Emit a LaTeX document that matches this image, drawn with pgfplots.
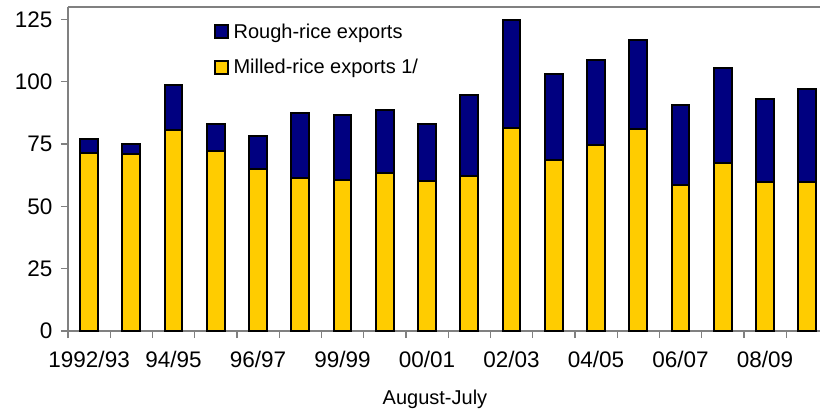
\documentclass[border=0pt]{standalone}
\usepackage{pgfplots}
\usepackage{pgfplotstable}
\pgfplotsset{compat=1.18}
\usepackage{fontspec}
\setmainfont{Liberation Sans}
\definecolor{navy}{HTML}{000080}
\definecolor{gold}{HTML}{FFCC00}
\definecolor{spine}{HTML}{808080}
\pgfplotstableread{
x milled rough
0 71.6 5.6
1 71.2 3.8
2 80.8 17.9
3 72.1 11.1
4 65.2 13.1
5 61.2 26.4
6 60.5 26.3
7 63.4 25.4
8 60.1 23.1
9 62.2 32.5
10 81.5 43.1
11 68.5 34.6
12 74.8 34.0
13 81.1 35.7
14 58.4 32.4
15 67.4 38.0
16 59.7 33.2
17 59.7 37.3
}\datatable
\begin{document}
\begin{tikzpicture}
\begin{axis}[
  scale only axis, width=752pt, height=324pt,
  ybar stacked, bar width=0.42,
  xmin=-0.5, xmax=17.3, ymin=0, ymax=130,
  axis x line*=bottom, axis y line*=left,
  axis line style={spine, line width=1.2pt},
  ytick={0,25,...,125},
  xtick={-0.5,0.5,...,16.5}, xticklabels={},
  extra x ticks={0,2,...,16},
  extra x tick labels={1992/93,94/95,96/97,99/99,00/01,02/03,04/05,06/07,08/09},
  extra x tick style={major tick length=0pt, tick label style={yshift=-17pt}},
  tick align=outside, major tick length=7pt,
  tick style={spine, line width=1.2pt},
  ticklabel style={font=\fontsize{22.5}{26}\selectfont},
  /pgf/number format/assume math mode=true,
  yticklabel style={xshift=-5pt},
  xlabel={August-July},
  xlabel style={font=\fontsize{20}{24}\selectfont, at={(rel axis cs:0.488,0)}, anchor=north, yshift=-55pt},
  legend style={at={(rel axis cs:0.19,0.962)}, anchor=north west, draw=none, fill=none,
    font=\fontsize{20}{23}\selectfont, row sep=16pt, legend cell align=left,
    nodes={inner xsep=5pt}},
  legend image code/.code={\draw[#1, line width=1.5pt, draw=black] (0pt,-6.5pt) rectangle (13pt,6.5pt);},
  reverse legend,
  clip=false,
]
\addplot[fill=gold, draw=black, line width=2pt] table[x=x, y=milled] {\datatable};
\addlegendentry{Milled-rice exports 1/}
\addplot[fill=navy, draw=black, line width=2pt] table[x=x, y=rough] {\datatable};
\addlegendentry{Rough-rice exports}
\draw[spine, line width=1.2pt] (rel axis cs:0,1) -- (rel axis cs:1,1);
\coordinate (sw) at (rel axis cs:0,0);
\coordinate (ne) at (rel axis cs:1,1);
\end{axis}
\pgfresetboundingbox
\path[use as bounding box] ([xshift=-68pt,yshift=-82pt]sw) rectangle ([yshift=7pt]ne);
\end{tikzpicture}
\end{document}
